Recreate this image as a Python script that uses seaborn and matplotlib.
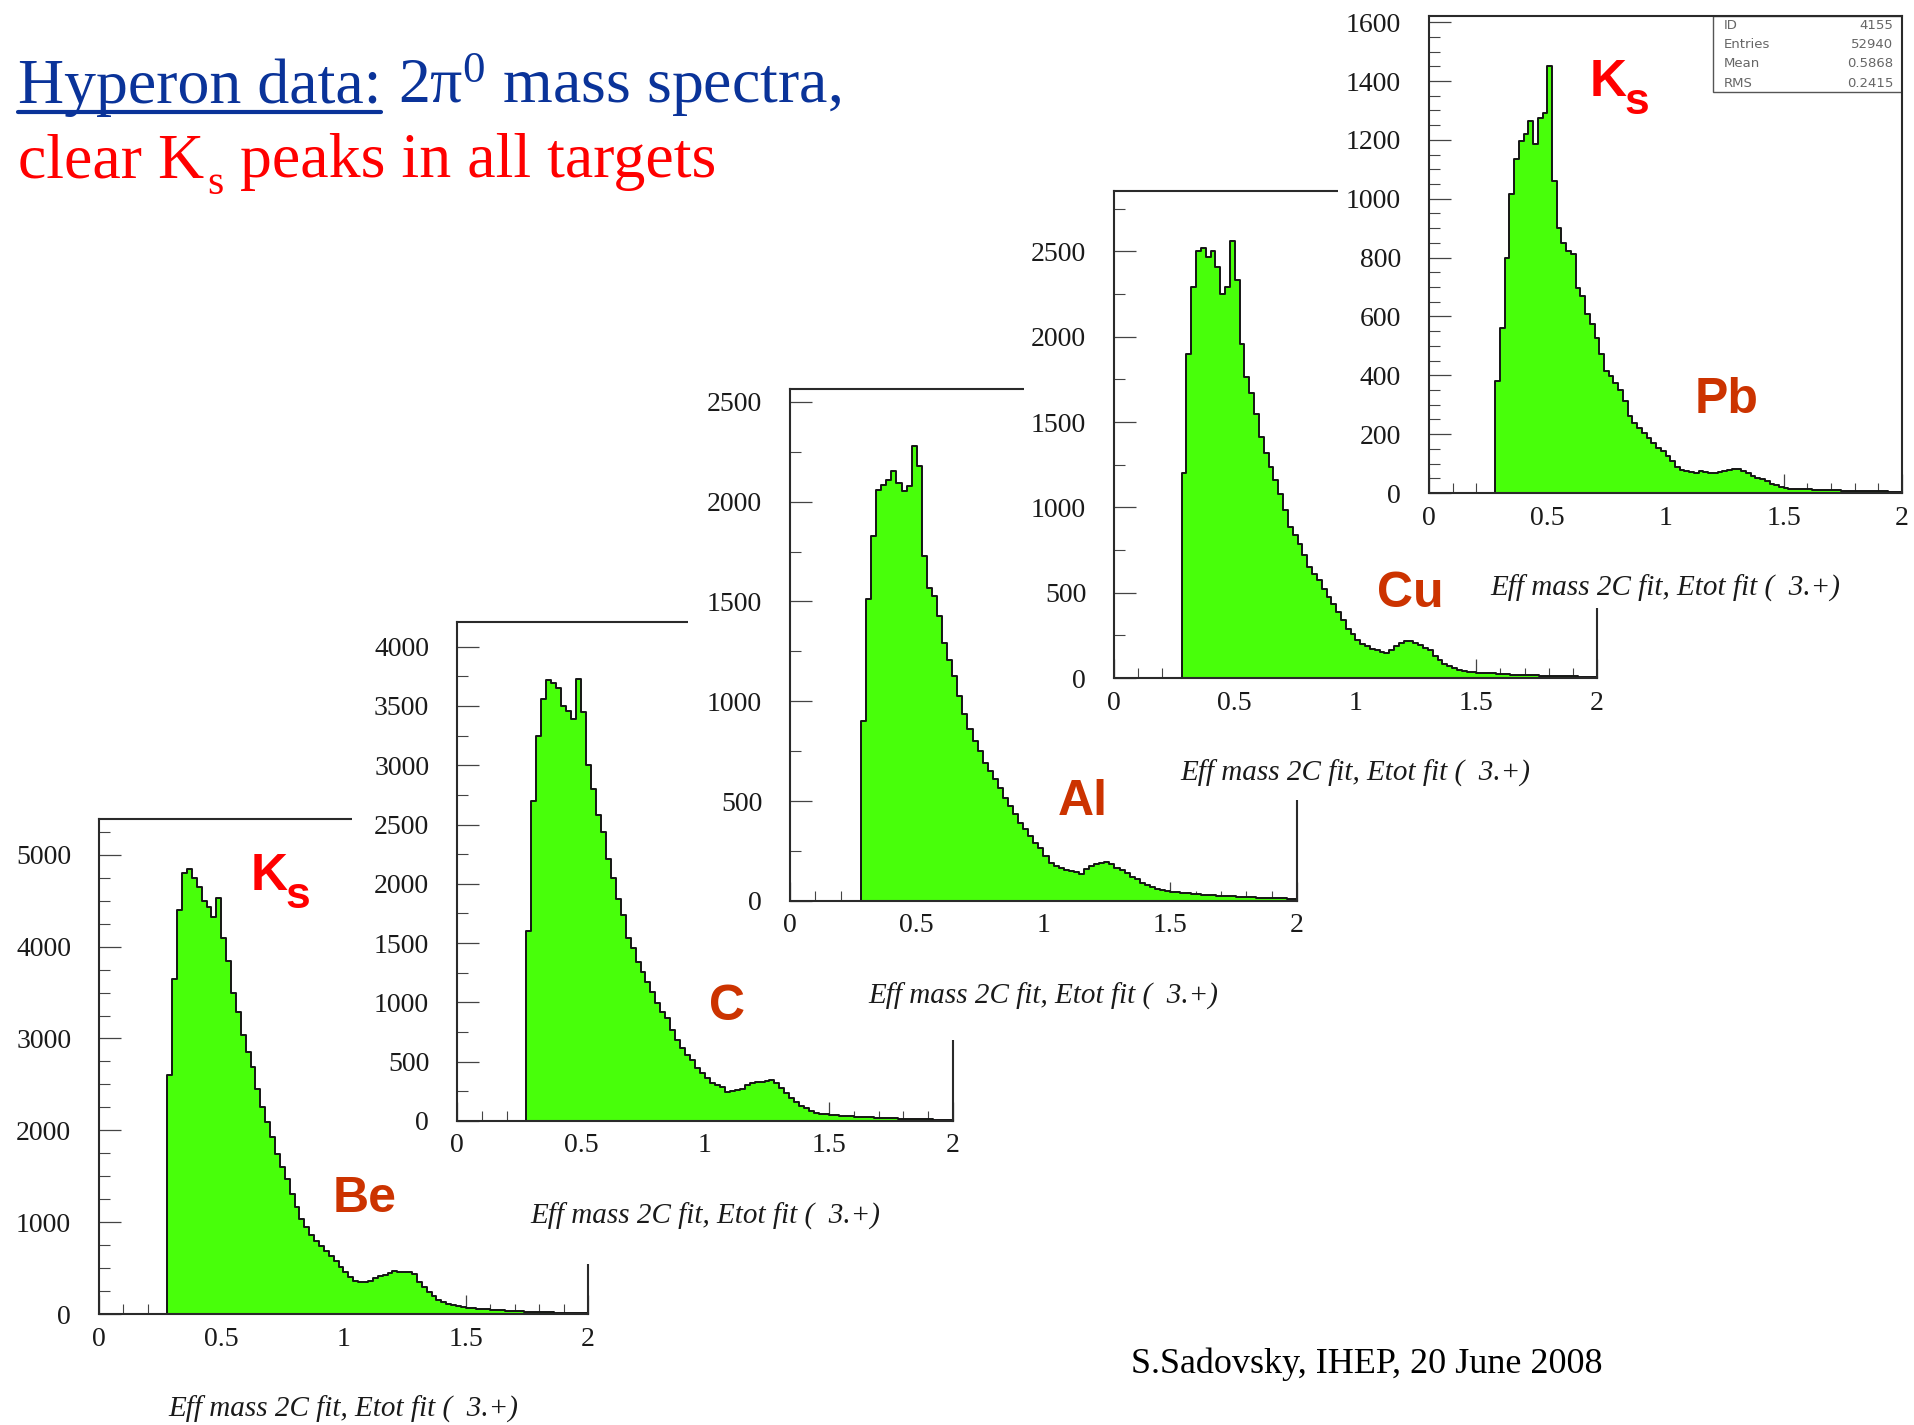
import numpy as np
import pandas as pd
import matplotlib
matplotlib.use("Agg")
import matplotlib.pyplot as plt
from matplotlib.patches import Rectangle
from matplotlib.lines import Line2D
from matplotlib.ticker import MultipleLocator, FixedLocator
import seaborn as sns

sns.set_style("ticks")
plt.rcParams["font.family"] = ["Liberation Serif", "DejaVu Serif"]
plt.rcParams["mathtext.fontset"] = "custom"
plt.rcParams["mathtext.rm"] = "Liberation Serif"
plt.rcParams["mathtext.it"] = "Liberation Serif:italic"
plt.rcParams["mathtext.bf"] = "Liberation Serif:bold"

# ---------------------------------------------------------------- data
MASS_LO = 0.28      # lower edge of the first filled bin (GeV)
BIN_WIDTH = 0.02
N_BINS = 86

TARGETS = ["Be", "C", "Al", "Cu", "Pb"]

counts_be = [2600, 3650, 4400, 4800, 4850, 4750, 4650, 4500, 4430, 4320,
             4530, 4090, 3840, 3500, 3290, 3040, 2855, 2690, 2455, 2255,
             2090, 1927, 1745, 1600, 1473, 1309, 1164, 1036, 945, 855,
             800, 745, 690, 636, 582, 509, 455, 400, 364, 345,
             353, 364, 389, 411, 425, 447, 473, 462, 455, 455,
             436, 345, 291, 236, 193, 156, 127, 109, 95, 84,
             76, 69, 62, 58, 55, 51, 47, 44, 40, 36,
             33, 33, 29, 25, 25, 22, 22, 18, 18, 15,
             15, 15, 11, 11, 11, 8]
counts_c = [1600, 2700, 3250, 3560, 3720, 3690, 3650, 3500, 3460, 3390,
            3730, 3450, 3000, 2800, 2580, 2440, 2210, 2045, 1875, 1735,
            1540, 1455, 1343, 1258, 1174, 1090, 992, 921, 865, 767,
            683, 612, 556, 514, 444, 402, 360, 317, 303, 289,
            247, 253, 261, 270, 303, 317, 326, 331, 337, 345,
            317, 275, 233, 191, 157, 129, 107, 87, 70, 62,
            56, 51, 48, 45, 42, 39, 37, 34, 31, 31,
            28, 25, 25, 22, 22, 20, 20, 17, 17, 14,
            14, 14, 11, 11, 11, 8]
counts_al = [900, 1510, 1826, 2060, 2085, 2110, 2152, 2093, 2052, 2077,
             2280, 2177, 1726, 1568, 1526, 1426, 1293, 1209, 1126, 1026,
             934, 859, 801, 751, 692, 651, 609, 567, 517, 475,
             434, 392, 359, 325, 292, 267, 225, 192, 175, 167,
             155, 150, 145, 135, 158, 175, 183, 192, 195, 183,
             167, 155, 138, 122, 108, 92, 80, 70, 62, 55,
             50, 47, 43, 40, 38, 37, 33, 32, 30, 28,
             27, 25, 23, 23, 22, 20, 20, 18, 17, 17,
             15, 15, 13, 13, 12, 12]
counts_cu = [1200, 1900, 2290, 2500, 2520, 2470, 2500, 2410, 2250, 2290,
             2560, 2330, 1960, 1765, 1668, 1550, 1413, 1316, 1238, 1159,
             1081, 983, 886, 837, 788, 719, 651, 612, 573, 524,
             475, 436, 387, 338, 289, 260, 225, 201, 186, 172,
             162, 154, 147, 166, 186, 205, 215, 217, 205, 192,
             178, 162, 127, 104, 84, 68, 57, 49, 43, 37,
             33, 31, 29, 27, 27, 25, 23, 21, 20, 20,
             18, 18, 16, 16, 14, 14, 12, 12, 12, 10,
             10, 10, 8, 8, 8, 8]
counts_pb = [380, 561, 800, 1015, 1134, 1196, 1219, 1264, 1185, 1276,
             1290, 1450, 1060, 901, 850, 822, 811, 697, 669, 607,
             573, 527, 471, 414, 397, 374, 351, 312, 261, 238,
             221, 204, 187, 170, 153, 142, 125, 108, 87, 79,
             74, 70, 68, 74, 71, 69, 68, 71, 76, 79,
             82, 83, 76, 68, 57, 51, 46, 40, 31, 26,
             22, 17, 15, 14, 14, 12, 12, 11, 11, 10,
             10, 9, 9, 8, 8, 8, 7, 7, 7, 6,
             6, 6, 6, 5, 5, 5]

COUNTS = {"Be": counts_be, "C": counts_c, "Al": counts_al,
          "Cu": counts_cu, "Pb": counts_pb}
Y_TOP = {"Be": 5390, "C": 4208, "Al": 2564, "Cu": 2854, "Pb": 1621}
Y_MAJOR = {"Be": 1000, "C": 500, "Al": 500, "Cu": 500, "Pb": 200}
Y_MINOR = {"Be": 250, "C": 250, "Al": 250, "Cu": 250, "Pb": 50}
X_TICKS = [0, 0.5, 1, 1.5, 2]
X_TICK_LABELS = ["0", "0.5", "1", "1.5", "2"]
XLABEL = "Eff mass 2C fit, Etot fit (  3.+)"
STATS = [("ID", "4155"), ("Entries", "52940"),
         ("Mean", "0.5868"), ("RMS", "0.2415")]
KS_TARGETS = ["Be", "Pb"]

TITLE_LINK = "Hyperon data:"
TITLE_REST = r"$\mathrm{2\pi^{0}}$ mass spectra,"
SUB_HEAD = "clear K"
SUB_INDEX = "s"
SUB_TAIL = "peaks in all targets"
FOOTER = "S.Sadovsky, IHEP, 20 June 2008"

# ---------------------------------------------------------------- layout (pixels)
W, H = 1915, 1425
FRAMES = {"Be": (99, 819, 588, 1314), "C": (457, 622, 953, 1121),
          "Al": (790, 389, 1297, 901), "Cu": (1114, 191, 1597, 678),
          "Pb": (1429, 16, 1902, 493)}
# white card behind each later histogram, hiding the one below it
CARDS = {"C": (352, 590, 1010, 1264), "Al": (688, 360, 1330, 1040),
         "Cu": (1024, 150, 1640, 800), "Pb": (1338, 0, 1915, 608)}
# target name: left edge, baseline
NAME_POS = {"Be": (333, 1212), "C": (709, 1020), "Al": (1058, 815),
            "Cu": (1377, 607), "Pb": (1695, 413)}
KS_POS = {"Be": (251, 890), "Pb": (1590, 96)}

GREEN = "#48FF0A"
EDGE = "#151515"
FRAME = "#2a2a2a"
BLUE = "#0A3399"
RED = "#FF0000"
ORANGE = "#CC3300"


def fx(px):
    return px / W


def fy(py):
    return 1 - py / H


def px_rect(l, t, r, b):
    return [l / W, 1 - b / H, (r - l) / W, (b - t) / H]


edges = MASS_LO + BIN_WIDTH * np.arange(N_BINS + 1)
centers = 0.5 * (edges[:-1] + edges[1:])
bin_edges = [float(e) for e in edges]

fig = plt.figure(figsize=(W / 100, H / 100), dpi=100)

for i, name in enumerate(TARGETS):
    z = 2 * i + 1
    if name in CARDS:
        l, t, r, b = CARDS[name]
        fig.add_artist(Rectangle((fx(l), fy(b)), (r - l) / W, (b - t) / H,
                                 transform=fig.transFigure, facecolor="white",
                                 edgecolor="none", zorder=z - 0.5))
    l, t, r, b = FRAMES[name]
    ax = fig.add_axes(px_rect(l, t, r, b))
    ax.set_zorder(z)
    ax.set_facecolor("white")

    df = pd.DataFrame({"mass": centers, "entries": COUNTS[name]})
    sns.histplot(data=df, x="mass", weights="entries", bins=bin_edges,
                 element="step", fill=True, color=GREEN, alpha=1,
                 edgecolor=EDGE, linewidth=1.4, ax=ax)

    ax.set_xlim(0, 2)
    ax.set_ylim(0, Y_TOP[name])
    ax.xaxis.set_major_locator(FixedLocator(X_TICKS))
    ax.set_xticklabels(X_TICK_LABELS)
    ax.xaxis.set_minor_locator(MultipleLocator(0.1))
    ax.yaxis.set_major_locator(MultipleLocator(Y_MAJOR[name]))
    ax.yaxis.set_minor_locator(MultipleLocator(Y_MINOR[name]))
    ax.yaxis.set_major_formatter(lambda v, p: f"{v:.0f}")

    ax.tick_params(which="both", direction="in", top=False, right=False,
                   color="#444444", labelcolor="#1a1a1a")
    ax.tick_params(axis="y", which="major", length=16, width=0.9, pad=20,
                   labelsize=20)
    ax.tick_params(axis="y", which="minor", length=8, width=0.8)
    ax.tick_params(axis="x", which="major", length=14, width=0.9, pad=9,
                   labelsize=20)
    ax.tick_params(axis="x", which="minor", length=7, width=0.8)
    for sp in ax.spines.values():
        sp.set_visible(True)
        sp.set_color(FRAME)
        sp.set_linewidth(1.5)

    ax.set_ylabel("")
    ax.set_xlabel(XLABEL, fontsize=21, style="italic", color="#1a1a1a")
    ax.xaxis.set_label_coords(0.5, -95 / (b - t))
    ax.xaxis.label.set_va("center")

    if name == "Pb":
        ax.add_patch(Rectangle((0.600, 0.841), 0.4, 0.159,
                               transform=ax.transAxes, fill=False,
                               edgecolor="#555555", linewidth=1.0))
        for k, (key, val) in enumerate(STATS):
            yy = 0.981 - k * 0.0405
            ax.text(0.624, yy, key, transform=ax.transAxes, fontsize=9.5,
                    family="DejaVu Sans", color="#666666", va="center")
            ax.text(0.981, yy, val, transform=ax.transAxes, fontsize=9.5,
                    family="DejaVu Sans", color="#666666", va="center",
                    ha="right")

# target names and K_s markers on top of everything
for name in TARGETS:
    x, y = NAME_POS[name]
    fig.text(fx(x), fy(y), name, fontsize=36, fontweight="bold",
             family="Liberation Sans", color=ORANGE, va="baseline",
             ha="left", zorder=20)
for name in KS_TARGETS:
    x, y = KS_POS[name]
    fig.text(fx(x), fy(y), "K", fontsize=37, fontweight="bold",
             family="Liberation Sans", color=RED, va="baseline",
             ha="left", zorder=20)
    fig.text(fx(x + 34), fy(y + 18), "s", fontsize=32, fontweight="bold",
             family="Liberation Sans", color=RED, va="baseline",
             ha="left", zorder=20)

# heading
renderer = fig.canvas.get_renderer()
t1 = fig.text(fx(18), fy(103), TITLE_LINK, fontsize=46, color=BLUE,
              va="baseline", ha="left", zorder=20)
bb = t1.get_window_extent(renderer)
fig.text(fx(bb.x1 + 17), fy(103), TITLE_REST, fontsize=46, color=BLUE,
         va="baseline", ha="left", zorder=20)
fig.add_artist(Line2D([fx(bb.x0), fx(bb.x1)], [fy(112), fy(112)],
                      transform=fig.transFigure, color=BLUE, linewidth=3,
                      zorder=20))

# second heading line with a lowered subscript
s1 = fig.text(fx(18), fy(177), SUB_HEAD, fontsize=46, color=RED,
              va="baseline", ha="left", zorder=20)
b1 = s1.get_window_extent(renderer)
s2 = fig.text(fx(b1.x1 + 3), fy(194), SUB_INDEX, fontsize=30, color=RED,
              va="baseline", ha="left", zorder=20)
b2 = s2.get_window_extent(renderer)
fig.text(fx(b2.x1 + 17), fy(177), SUB_TAIL, fontsize=46, color=RED,
         va="baseline", ha="left", zorder=20)

fig.text(fx(1367), fy(1364), FOOTER, fontsize=26, color="black",
         ha="center", va="center", zorder=20)

fig.savefig("out.png", dpi=100, facecolor="white")
